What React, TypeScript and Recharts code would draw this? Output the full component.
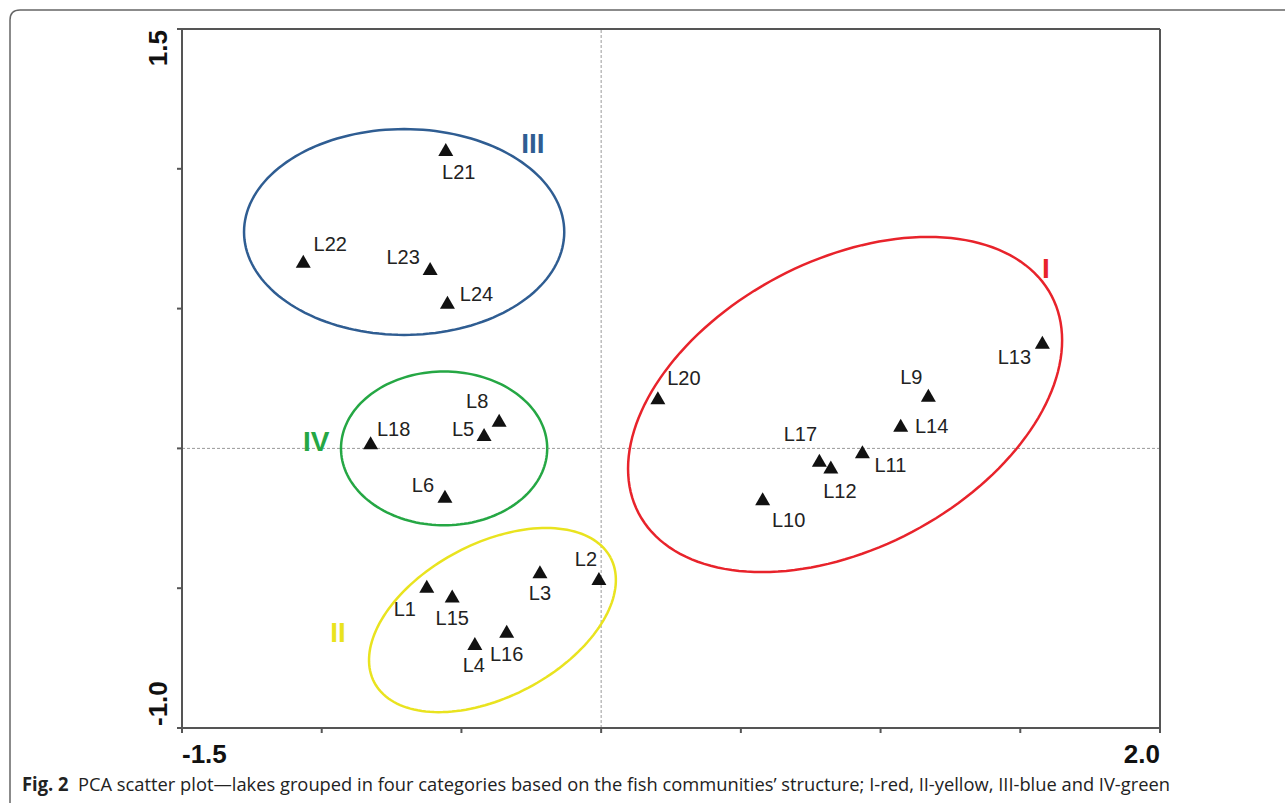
import { ScatterChart, Scatter, XAxis, YAxis, ReferenceLine } from 'recharts';

// lake scores on the first two PCA axes
const lakeNames = ['L1', 'L2', 'L3', 'L4', 'L5', 'L6', 'L8', 'L9', 'L10', 'L11', 'L12', 'L13', 'L14', 'L15', 'L16', 'L17', 'L18', 'L20', 'L21', 'L22', 'L23', 'L24'];
const pc1 = [-0.624, -0.008, -0.219, -0.452, -0.419, -0.559, -0.365, 1.171, 0.578, 0.935, 0.822, 1.579, 1.072, -0.533, -0.338, 0.781, -0.825, 0.203, -0.556, -1.066, -0.612, -0.55];
const pc2 = [-0.495, -0.467, -0.443, -0.7, 0.048, -0.173, 0.099, 0.188, -0.182, -0.014, -0.068, 0.378, 0.081, -0.53, -0.656, -0.044, 0.018, 0.179, 1.067, 0.668, 0.642, 0.521];

const xTicks = [-1.5, -1, -0.5, 0, 0.5, 1, 1.5, 2];
const yTicks = [-1, -0.5, 0, 0.5, 1, 1.5];

// group ellipses, in data units (centre, semi axes, tilt in degrees)
const groups = [
  { name: 'I', color: '#e8232b', cx: 0.873, cy: 0.157, a: 0.835, b: 0.515, tilt: 27.8, lx: 1.592, ly: 0.645 },
  { name: 'II', color: '#e9e31f', cx: -0.389, cy: -0.614, a: 0.478, b: 0.274, tilt: 27.8, lx: -0.942, ly: -0.66 },
  { name: 'III', color: '#2f5d92', cx: -0.705, cy: 0.774, a: 0.573, b: 0.368, tilt: 0, lx: -0.244, ly: 1.089 },
  { name: 'IV', color: '#25a744', cx: -0.562, cy: 0.0, a: 0.369, b: 0.275, tilt: 0, lx: -1.02, ly: 0.026 },
];

// label offsets (px) around each triangle
const LABEL_OFFSET: Record<string, [number, number]> = {
  L1: [-22, 22], L2: [-13, -20], L3: [0, 21], L4: [-1, 21], L5: [-21, -6], L6: [-22, -12],
  L8: [-22, -20], L9: [-17, -19], L10: [26, 21], L11: [28, 13], L12: [9, 24], L13: [-28, 14],
  L14: [31, 0], L15: [0, 21], L16: [0, 22], L17: [-19, -27], L18: [23, -14], L20: [26, -20],
  L21: [13, 22], L22: [27, -18], L23: [-27, -12], L24: [29, -9],
};

const lakes = lakeNames.map((name, i) => ({ name, x: pc1[i], y: pc2[i] }));

const ellipsePath = (g: (typeof groups)[number]) => {
  const t = (g.tilt * Math.PI) / 180;
  const pts = [];
  for (let k = 0; k <= 160; k++) {
    const p = (k / 160) * Math.PI * 2;
    pts.push({
      x: g.cx + g.a * Math.cos(p) * Math.cos(t) - g.b * Math.sin(p) * Math.sin(t),
      y: g.cy + g.a * Math.cos(p) * Math.sin(t) + g.b * Math.sin(p) * Math.cos(t),
    });
  }
  return pts;
};

const font = "'Liberation Sans', Arial, sans-serif";

const Triangle = (props: any) => {
  const { cx, cy, payload } = props;
  const [dx, dy] = LABEL_OFFSET[payload.name] || [0, 20];
  return (
    <g>
      <polygon points={`${cx},${cy - 7} ${cx - 7.5},${cy + 6} ${cx + 7.5},${cy + 6}`} fill="#111" />
      <text x={cx + dx} y={cy + dy} textAnchor="middle" dominantBaseline="central" fontFamily={font} fontSize={20} fill="#222">
        {payload.name}
      </text>
    </g>
  );
};

const GroupLabel = (color: string) => (props: any) => (
  <text x={props.cx} y={props.cy} textAnchor="middle" dominantBaseline="central" fontFamily={font} fontWeight="bold" fontSize={28} fill={color}>
    {props.payload.name}
  </text>
);

const XTick = ({ x, y, payload }: any) => {
  if (payload.value !== -1.5 && payload.value !== 2) return null;
  return (
    <text x={x} y={y + 28} textAnchor={payload.value === 2 ? 'end' : 'start'} fontFamily={font} fontWeight="bold" fontSize={26} fill="#111">
      {payload.value.toFixed(1)}
    </text>
  );
};

const YTick = ({ x, y, payload }: any) => {
  if (payload.value !== 1.5 && payload.value !== -1) return null;
  const bx = x - 8;
  const by = payload.value === 1.5 ? y + 1 : y - 2;
  return (
    <text x={bx} y={by} transform={`rotate(-90 ${bx} ${by})`} textAnchor={payload.value === 1.5 ? 'end' : 'start'} fontFamily={font} fontWeight="bold" fontSize={26} fill="#111">
      {payload.value.toFixed(1)}
    </text>
  );
};

export default function App() {
  return (
    <div style={{ position: 'absolute', left: 0, top: 0, width: 1285, height: 803, background: '#fff' }}>
      <ScatterChart width={1285} height={803} margin={{ top: 29, right: 125, bottom: 35, left: 132 }}>
        <XAxis
          type="number"
          dataKey="x"
          domain={[-1.5, 2]}
          ticks={xTicks}
          height={40}
          tickSize={5}
          tick={<XTick />}
          axisLine={{ stroke: '#555', strokeWidth: 2 }}
          tickLine={{ stroke: '#555', strokeWidth: 2 }}
          allowDataOverflow
        />
        <YAxis
          type="number"
          dataKey="y"
          domain={[-1, 1.5]}
          ticks={yTicks}
          width={50}
          tickSize={5}
          tick={<YTick />}
          axisLine={{ stroke: '#555', strokeWidth: 2 }}
          tickLine={{ stroke: '#555', strokeWidth: 2 }}
          allowDataOverflow
        />
        <ReferenceLine x={0} stroke="#9a9a9a" strokeDasharray="3 2" />
        <ReferenceLine y={0} stroke="#9a9a9a" strokeDasharray="3 2" />
        <ReferenceLine y={1.5} stroke="#555" strokeWidth={2} />
        <ReferenceLine x={2} stroke="#555" strokeWidth={2} />
        {groups.map((g) => (
          <Scatter
            key={g.name}
            data={ellipsePath(g)}
            line={{ stroke: g.color, strokeWidth: 2.5 }}
            lineType="joint"
            shape={() => <g />}
            isAnimationActive={false}
          />
        ))}
        {groups.map((g) => (
          <Scatter
            key={'lab' + g.name}
            data={[{ name: g.name, x: g.lx, y: g.ly }]}
            shape={GroupLabel(g.color)}
            isAnimationActive={false}
          />
        ))}
        <Scatter data={lakes} shape={<Triangle />} isAnimationActive={false} />
      </ScatterChart>
      <svg width={1285} height={803} style={{ position: 'absolute', left: 0, top: 0, pointerEvents: 'none' }}>
        <path d="M10,803 L10,20 Q10,10 20,10 L1285,10" fill="none" stroke="#666" strokeWidth={1.5} />
        <text x={22} y={791} textLength={1148} lengthAdjust="spacingAndGlyphs" fontFamily="'Open Sans', 'Noto Sans', sans-serif" fontSize={19} fill="#222">
          <tspan fontWeight="bold">Fig. 2</tspan>
          <tspan>{'\u00a0\u00a0PCA scatter plot\u2014lakes grouped in four categories based on the fish communities\u2019 structure; I-red, II-yellow, III-blue and IV-green'}</tspan>
        </text>
      </svg>
    </div>
  );
}
